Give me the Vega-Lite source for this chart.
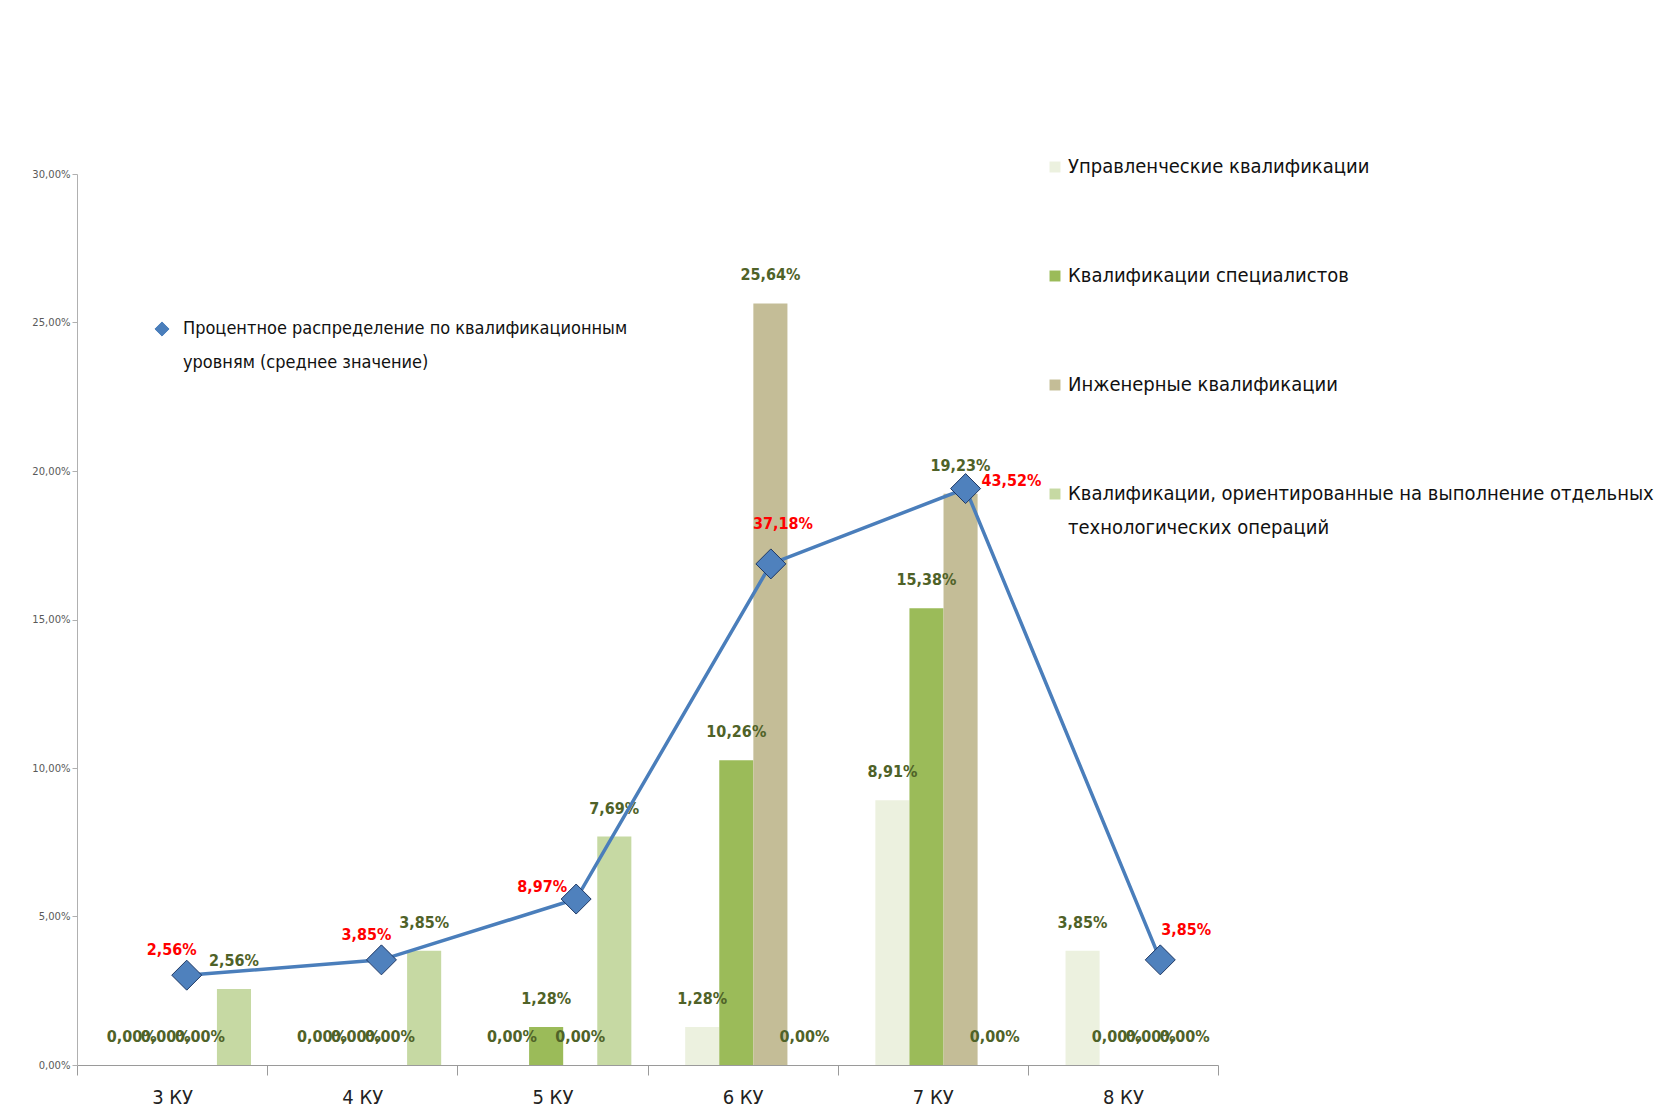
{
  "$schema": "https://vega.github.io/schema/vega-lite/v6.json",
  "width": 1141,
  "height": 891,
  "autosize": {"type": "none"},
  "padding": {"left": 77, "top": 174, "right": 453, "bottom": 46},
  "background": "white",
  "config": {
    "locale": {"number": {"decimal": ",", "thousands": " ", "grouping": [3], "currency": ["", " ₽"]}},
    "view": {"stroke": null},
    "font": "DejaVu Sans Condensed, Liberation Sans, sans-serif",
    "style": {"guide-label": {"lineHeight": 34}}
  },
  "datasets": {
    "bars": [
      {"level": "3 КУ", "series": "Управленческие квалификации", "value": 0},
      {"level": "3 КУ", "series": "Квалификации специалистов", "value": 0},
      {"level": "3 КУ", "series": "Инженерные квалификации", "value": 0},
      {"level": "3 КУ", "series": "Квалификации, ориентированные на выполнение отдельных технологических операций", "value": 0.0256},
      {"level": "4 КУ", "series": "Управленческие квалификации", "value": 0},
      {"level": "4 КУ", "series": "Квалификации специалистов", "value": 0},
      {"level": "4 КУ", "series": "Инженерные квалификации", "value": 0},
      {"level": "4 КУ", "series": "Квалификации, ориентированные на выполнение отдельных технологических операций", "value": 0.0385},
      {"level": "5 КУ", "series": "Управленческие квалификации", "value": 0},
      {"level": "5 КУ", "series": "Квалификации специалистов", "value": 0.0128},
      {"level": "5 КУ", "series": "Инженерные квалификации", "value": 0},
      {"level": "5 КУ", "series": "Квалификации, ориентированные на выполнение отдельных технологических операций", "value": 0.0769},
      {"level": "6 КУ", "series": "Управленческие квалификации", "value": 0.0128},
      {"level": "6 КУ", "series": "Квалификации специалистов", "value": 0.1026},
      {"level": "6 КУ", "series": "Инженерные квалификации", "value": 0.2564},
      {"level": "6 КУ", "series": "Квалификации, ориентированные на выполнение отдельных технологических операций", "value": 0},
      {"level": "7 КУ", "series": "Управленческие квалификации", "value": 0.0891},
      {"level": "7 КУ", "series": "Квалификации специалистов", "value": 0.1538},
      {"level": "7 КУ", "series": "Инженерные квалификации", "value": 0.1923},
      {"level": "7 КУ", "series": "Квалификации, ориентированные на выполнение отдельных технологических операций", "value": 0},
      {"level": "8 КУ", "series": "Управленческие квалификации", "value": 0.0385},
      {"level": "8 КУ", "series": "Квалификации специалистов", "value": 0},
      {"level": "8 КУ", "series": "Инженерные квалификации", "value": 0},
      {"level": "8 КУ", "series": "Квалификации, ориентированные на выполнение отдельных технологических операций", "value": 0}
    ],
    "line": [
      {"level": "3 КУ", "value": 0.0256},
      {"level": "4 КУ", "value": 0.0385},
      {"level": "5 КУ", "value": 0.0897},
      {"level": "6 КУ", "value": 0.3718},
      {"level": "7 КУ", "value": 0.4352},
      {"level": "8 КУ", "value": 0.0385}
    ]
  },
  "layer": [
    {
      "data": {"name": "bars"},
      "encoding": {
        "x": {
          "field": "level", "type": "nominal", "sort": null,
          "scale": {"paddingInner": 0, "paddingOuter": 0},
          "axis": {
            "title": null, "labelAngle": 0, "labelFontSize": 20, "labelColor": "#222222",
            "labelPadding": 12,
            "domainColor": "#9a9a9a", "tickColor": "#9a9a9a", "tickSize": 10, "tickBand": "extent", "grid": false
          }
        },
        "xOffset": {
          "field": "series", "type": "nominal",
          "sort": ["Управленческие квалификации", "Квалификации специалистов", "Инженерные квалификации", "Квалификации, ориентированные на выполнение отдельных технологических операций"],
          "scale": {"paddingInner": 0, "paddingOuter": 0.79, "align": 0.7}
        },
        "y": {
          "field": "value", "type": "quantitative",
          "scale": {"domain": [0, 0.3]},
          "axis": {
            "title": null, "format": ".2%", "values": [0, 0.05, 0.1, 0.15, 0.2, 0.25, 0.3],
            "labelFont": "DejaVu Sans", "labelFontSize": 10, "labelColor": "#595959",
            "domainColor": "#b0b0b0", "tickColor": "#b0b0b0", "tickSize": 5, "grid": false
          }
        }
      },
      "layer": [
        {
          "mark": {"type": "bar"},
          "encoding": {
            "fill": {
              "field": "series", "type": "nominal",
              "scale": {
                "domain": ["Управленческие квалификации", "Квалификации специалистов", "Инженерные квалификации", "Квалификации, ориентированные на выполнение отдельных технологических операций"],
                "range": ["#ECF1DF", "#9BBB59", "#C4BD97", "#C6D9A3"]
              },
              "legend": {
                "title": null, "orient": "none", "legendX": 968, "legendY": -17, "direction": "vertical",
                "labelFontSize": 20, "labelColor": "#111111", "labelLimit": 900,
                "symbolType": "square", "symbolSize": 120, "symbolStrokeWidth": 0, "rowPadding": 89, "labelOffset": 3,
                "labelExpr": "datum.label == 'Квалификации, ориентированные на выполнение отдельных технологических операций' ? ['Квалификации, ориентированные на выполнение отдельных', 'технологических операций'] : datum.label"
              }
            }
          }
        },
        {
          "mark": {"type": "text", "baseline": "bottom", "align": "center", "dy": -20, "fontSize": 16, "fontWeight": "bold", "fill": "#4F6228"},
          "encoding": {
            "text": {"field": "value", "type": "quantitative", "format": ".2%"}
          }
        }
      ]
    },
    {
      "data": {"name": "line"},
      "encoding": {
        "x": {"field": "level", "type": "nominal", "sort": null, "scale": {"type": "point", "padding": 0.43}, "axis": null},
        "y": {"field": "value", "type": "quantitative", "scale": {"domain": [-0.05, 0.7]}, "axis": null}
      },
      "layer": [
        {
          "mark": {"type": "line", "strokeWidth": 3.5, "xOffset": 26},
          "encoding": {
            "stroke": {
              "datum": "Процентное распределение по квалификационным уровням (среднее значение)",
              "type": "nominal",
              "scale": {"range": ["#4A7EBB"]},
              "legend": {
                "title": null, "orient": "none", "legendX": 76, "legendY": 146,
                "labelFontSize": 18, "labelColor": "#111111", "labelLimit": 900, "labelOffset": 12,
                "symbolType": "diamond", "symbolFillColor": "#4A7EBB", "symbolStrokeColor": "#1F3864", "symbolStrokeWidth": 1, "symbolSize": 200,
                "labelExpr": "['Процентное распределение по квалификационным', 'уровням (среднее значение)']"
              }
            }
          }
        },
        {
          "mark": {"type": "point", "shape": "diamond", "filled": true, "size": 900, "fill": "#4F81BD", "stroke": "#1F3864", "strokeWidth": 1, "opacity": 1, "xOffset": 26}
        },
        {
          "transform": [{"filter": {"field": "level", "oneOf": ["3 КУ", "4 КУ"]}}],
          "mark": {"type": "text", "baseline": "bottom", "align": "center", "xOffset": 26, "dx": -15, "dy": -17, "fontSize": 16, "fontWeight": "bold", "fill": "#FF0000"},
          "encoding": {"text": {"field": "value", "type": "quantitative", "format": ".2%"}}
        },
        {
          "transform": [{"filter": {"field": "level", "oneOf": ["5 КУ"]}}],
          "mark": {"type": "text", "baseline": "bottom", "align": "center", "xOffset": 26, "dx": -34, "dy": -4, "fontSize": 16, "fontWeight": "bold", "fill": "#FF0000"},
          "encoding": {"text": {"field": "value", "type": "quantitative", "format": ".2%"}}
        },
        {
          "transform": [{"filter": {"field": "level", "oneOf": ["6 КУ"]}}],
          "mark": {"type": "text", "baseline": "bottom", "align": "center", "xOffset": 26, "dx": 12, "dy": -32, "fontSize": 16, "fontWeight": "bold", "fill": "#FF0000"},
          "encoding": {"text": {"field": "value", "type": "quantitative", "format": ".2%"}}
        },
        {
          "transform": [{"filter": {"field": "level", "oneOf": ["7 КУ"]}}],
          "mark": {"type": "text", "baseline": "bottom", "align": "left", "xOffset": 26, "dx": 16, "dy": 0, "fontSize": 16, "fontWeight": "bold", "fill": "#FF0000"},
          "encoding": {"text": {"field": "value", "type": "quantitative", "format": ".2%"}}
        },
        {
          "transform": [{"filter": {"field": "level", "oneOf": ["8 КУ"]}}],
          "mark": {"type": "text", "baseline": "bottom", "align": "center", "xOffset": 26, "dx": 26, "dy": -22, "fontSize": 16, "fontWeight": "bold", "fill": "#FF0000"},
          "encoding": {"text": {"field": "value", "type": "quantitative", "format": ".2%"}}
        }
      ]
    }
  ],
  "resolve": {"scale": {"y": "independent", "x": "independent"}}
}
